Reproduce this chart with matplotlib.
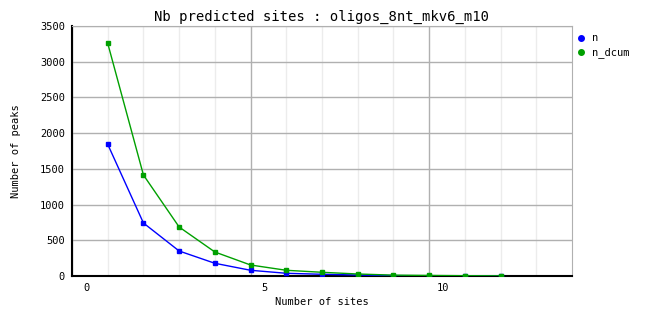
import matplotlib
matplotlib.use("Agg")
import matplotlib.pyplot as plt
from matplotlib.lines import Line2D
from matplotlib.transforms import ScaledTranslation

sites = [1, 2, 3, 4, 5, 6, 7, 8, 9, 10, 11, 12]
n = [1844, 742, 350, 178, 80, 38, 24, 14, 5, 4, 2, 1]
n_dcum = [3258, 1414, 686, 336, 154, 80, 52, 28, 12, 8, 4, 2]
yticks = [0, 500, 1000, 1500, 2000, 2500, 3000, 3500]
xticks = [0, 5, 10]

BLUE = "#0000ff"
GREEN = "#00a000"

plt.rcParams['font.family'] = ['DejaVu Sans Mono']

fig = plt.figure(figsize=(6.62, 3.28), dpi=100)
ax = fig.add_axes([72 / 662, 52 / 328, 500 / 662, 250 / 328])

# grid: light minor lines at each integer site, grey major lines
for x in range(1, 14):
    if x % 5:
        ax.axvline(x, color="#ececec", lw=1, zorder=0)
ax.set_xticks(xticks)
ax.set_yticks(yticks)
ax.grid(True, color="#b0b0b0", lw=1, zorder=0)

ax.plot(sites, n, color=BLUE, lw=1, marker="s", ms=3, zorder=3)
ax.plot(sites, n_dcum, color=GREEN, lw=1, marker="s", ms=3, zorder=3)

ax.set_xlim(0, 14)
ax.set_ylim(0, 3500)

for side in ("top", "right"):
    ax.spines[side].set_color("#b0b0b0")
for side in ("left", "bottom"):
    ax.spines[side].set_color("black")
    ax.spines[side].set_linewidth(1.5)

ax.tick_params(length=0, labelsize=7.5, pad=5)
shift = ScaledTranslation(0.14, 0, fig.dpi_scale_trans)
for lab in ax.get_xticklabels():
    lab.set_transform(lab.get_transform() + shift)

ax.set_title("Nb predicted sites : oligos_8nt_mkv6_m10", fontsize=10, pad=4)
ax.set_xlabel("Number of sites", fontsize=7.5, labelpad=3)
ax.set_ylabel("Number of peaks", fontsize=7.5, labelpad=14)

handles = [Line2D([], [], ls="none", marker="o", ms=4, color=BLUE),
           Line2D([], [], ls="none", marker="o", ms=4, color=GREEN)]
fig.legend(handles, ["n", "n_dcum"], loc="upper left",
           bbox_to_anchor=(566 / 662, 1 - 24 / 328), frameon=False,
           fontsize=7.5, handlelength=1, handletextpad=0.6, labelspacing=0.4)

fig.savefig("out.png", dpi=100)
